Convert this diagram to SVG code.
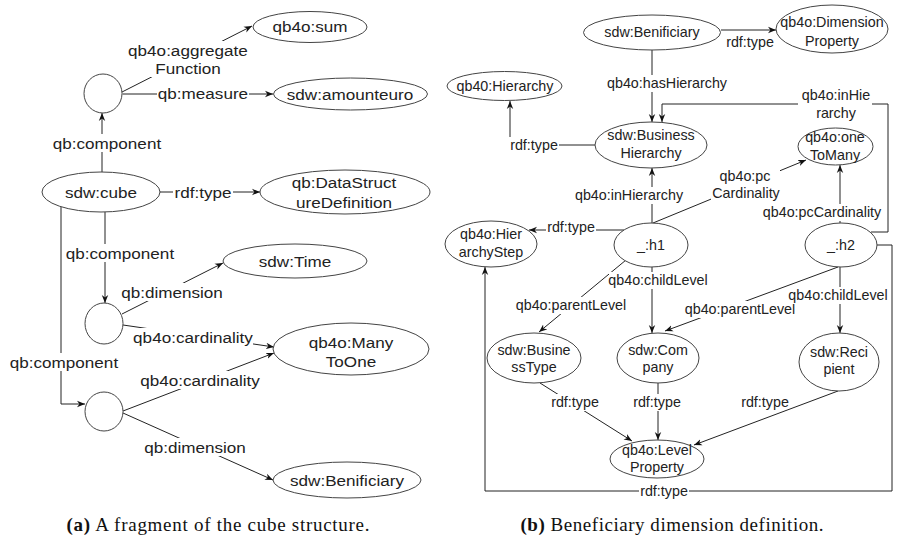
<svg xmlns="http://www.w3.org/2000/svg" width="898" height="535" viewBox="0 0 898 535">
<style>
.n{fill:#fff;stroke:#444;stroke-width:1}
.e{fill:none;stroke:#222;stroke-width:1}
.a{marker-end:url(#arr)}
.bg{fill:#fff}
.l{font-family:"Liberation Sans",Arial,sans-serif;font-size:15px;fill:#222;text-anchor:middle;dominant-baseline:central;transform-box:fill-box;transform-origin:center;transform:scaleX(1.14)}
.r{font-family:"Liberation Sans",Arial,sans-serif;font-size:14.3px;fill:#222;text-anchor:middle;dominant-baseline:central}
.cap{font-family:"Liberation Serif","Times New Roman",serif;font-size:19px;fill:#111;text-anchor:middle}
</style>
<defs>
<marker id="arr" viewBox="0 0 10 10" refX="10" refY="5" markerWidth="8" markerHeight="8" orient="auto" markerUnits="userSpaceOnUse">
<path d="M0,1 L10,5 L0,9 L3,5 z" fill="#111"/>
</marker>
</defs>
<rect width="898" height="535" fill="#fff"/>

<g id="connectors">
<!-- left panel -->
<path class="e a" d="M122,92 L252,26"/>
<path class="e a" d="M122.5,94 L273,94"/>
<path class="e a" d="M102,172 L102,113"/>
<path class="e a" d="M160,192 L260,192"/>
<path class="e a" d="M105,212 L105,303"/>
<path class="e a" d="M122,314 L223,263"/>
<path class="e a" d="M123,325 L274,347"/>
<path class="e a" d="M61,207 L61,404 L85,404"/>
<path class="e a" d="M123,411 L274,353"/>
<path class="e a" d="M123,413 L273,480"/>
<!-- right panel -->
<path class="e a" d="M721,30 L776,30"/>
<path class="e a" d="M652,50 L652,122"/>
<path class="e a" d="M595,145 L510,145 L510,101"/>
<path class="e a" d="M652,223 L652,168"/>
<path class="e a" d="M653,223 L806,160"/>
<path class="e a" d="M840,223 L840,165"/>
<path class="e a" d="M871,232 L888,232 L888,104 L662,104 L662,122"/>
<path class="e a" d="M624,230 L529,230"/>
<path class="e a" d="M652,267 L652,333"/>
<path class="e a" d="M626,260 L539,332"/>
<path class="e a" d="M838,267 L665,331"/>
<path class="e a" d="M840,267 L840,333"/>
<path class="e a" d="M877,245 L892,245 L892,491 L485,491 L485,267"/>
<path class="e a" d="M540,383 L632,441"/>
<path class="e a" d="M658,383 L658,440"/>
<path class="e a" d="M838,391 L694,445"/>

<g id="edge-labels">
<rect class="bg" x="127" y="41" width="122" height="36"/>
<text class="l" x="188" y="50">qb4o:aggregate</text>
<text class="l" x="188" y="68">Function</text>
<rect class="bg" x="157" y="85" width="92" height="17"/>
<text class="l" x="203" y="93">qb:measure</text>
<rect class="bg" x="52" y="134" width="110" height="18"/>
<text class="l" x="107" y="143">qb:component</text>
<rect class="bg" x="173" y="184" width="60" height="17"/>
<text class="l" x="203" y="192">rdf:type</text>
<rect class="bg" x="65" y="244" width="110" height="18"/>
<text class="l" x="120" y="253">qb:component</text>
<rect class="bg" x="121" y="283" width="104" height="18"/>
<text class="l" x="172" y="292">qb:dimension</text>
<rect class="bg" x="133" y="328" width="120" height="17"/>
<text class="l" x="193" y="337">qb4o:cardinality</text>
<rect class="bg" x="9" y="353" width="110" height="18"/>
<text class="l" x="64" y="362">qb:component</text>
<rect class="bg" x="140" y="371" width="120" height="18"/>
<text class="l" x="200" y="380">qb4o:cardinality</text>
<rect class="bg" x="144" y="438" width="103" height="18"/>
<text class="l" x="195" y="447">qb:dimension</text>

<text class="r" x="750" y="42">rdf:type</text>
<rect class="bg" x="606" y="75" width="122" height="17"/>
<text class="r" x="667" y="83">qb4o:hasHierarchy</text>
<rect class="bg" x="509" y="137" width="50" height="17"/>
<text class="r" x="534" y="145">rdf:type</text>
<rect class="bg" x="575" y="187" width="109" height="17"/>
<text class="r" x="629" y="195">qb4o:inHierarchy</text>
<rect class="bg" x="711" y="167" width="69" height="35"/>
<text class="r" x="745" y="176">qb4o:pc</text>
<text class="r" x="746" y="193">Cardinality</text>
<rect class="bg" x="762" y="204" width="121" height="17"/>
<text class="r" x="822" y="212">qb4o:pcCardinality</text>
<rect class="bg" x="798" y="86" width="74" height="36"/>
<text class="r" x="836" y="95">qb4o:inHie</text>
<text class="r" x="836" y="113">rarchy</text>
<rect class="bg" x="546" y="220" width="50" height="17"/>
<text class="r" x="571" y="227">rdf:type</text>
<rect class="bg" x="609" y="272" width="100" height="17"/>
<text class="r" x="658" y="280">qb4o:childLevel</text>
<rect class="bg" x="515" y="297" width="112" height="17"/>
<text class="r" x="571" y="305">qb4o:parentLevel</text>
<rect class="bg" x="684" y="301" width="112" height="17"/>
<text class="r" x="740" y="309">qb4o:parentLevel</text>
<rect class="bg" x="788" y="287" width="100" height="17"/>
<text class="r" x="838" y="295">qb4o:childLevel</text>
<rect class="bg" x="639" y="483" width="50" height="17"/>
<text class="r" x="664" y="491">rdf:type</text>
<rect class="bg" x="551" y="394" width="49" height="17"/>
<text class="r" x="575" y="402">rdf:type</text>
<rect class="bg" x="633" y="394" width="49" height="17"/>
<text class="r" x="657" y="402">rdf:type</text>
<text class="r" x="765" y="402">rdf:type</text>
</g>
</g>

<!-- left panel nodes -->
<g id="sum"><ellipse class="n" cx="310" cy="27" rx="57" ry="15.5"/><text class="l" x="310" y="26">qb4o:sum</text></g>
<g id="m1"><ellipse class="n" cx="103" cy="93.5" rx="19" ry="19.5"/></g>
<g id="amounteuro"><ellipse class="n" cx="350.5" cy="94" rx="77" ry="16"/><text class="l" x="350" y="94">sdw:amounteuro</text></g>
<g id="cube"><ellipse class="n" cx="101" cy="192" rx="59" ry="20"/><text class="l" x="101" y="192">sdw:cube</text></g>
<g id="dsd"><ellipse class="n" cx="345" cy="192" rx="85" ry="22"/><text class="l" x="344" y="182">qb:DataStruct</text><text class="l" x="344" y="202">ureDefinition</text></g>
<g id="d1"><ellipse class="n" cx="104" cy="323.5" rx="19" ry="20.5"/></g>
<g id="time"><ellipse class="n" cx="295" cy="261" rx="72" ry="17"/><text class="l" x="295" y="261">sdw:Time</text></g>
<g id="manytoone"><ellipse class="n" cx="351" cy="349" rx="78" ry="26"/><text class="l" x="351" y="342">qb4o:Many</text><text class="l" x="351" y="361">ToOne</text></g>
<g id="d2"><ellipse class="n" cx="104" cy="411.5" rx="19" ry="19.5"/></g>
<g id="benificiary-a"><ellipse class="n" cx="347" cy="480" rx="74" ry="18"/><text class="l" x="347" y="480">sdw:Benificiary</text></g>

<!-- right panel nodes -->
<g id="benificiary-b"><ellipse class="n" cx="652" cy="32.5" rx="68.5" ry="17.5"/><text class="r" x="652" y="32">sdw:Benificiary</text></g>
<g id="dimprop"><ellipse class="n" cx="832" cy="29" rx="56" ry="24"/><text class="r" x="832" y="22">qb4o:Dimension</text><text class="r" x="832" y="41">Property</text></g>
<g id="hierarchy"><ellipse class="n" cx="504.5" cy="86" rx="57.5" ry="14.5"/><text class="r" x="505" y="86">qb40:Hierarchy</text></g>
<g id="bizhier"><ellipse class="n" cx="651" cy="145" rx="56" ry="23"/><text class="r" x="651" y="135">sdw:Business</text><text class="r" x="651" y="153">Hierarchy</text></g>
<g id="onetomany"><ellipse class="n" cx="835.5" cy="146.5" rx="37.5" ry="18.5"/><text class="r" x="835" y="137">qb4o:one</text><text class="r" x="835" y="155">ToMany</text></g>
<g id="hierstep"><ellipse class="n" cx="491" cy="244" rx="46" ry="23"/><text class="r" x="491" y="234">qb4o:Hier</text><text class="r" x="491" y="252">archyStep</text></g>
<g id="h1"><ellipse class="n" cx="651" cy="245" rx="37" ry="22"/><text class="r" x="651" y="245">_:h1</text></g>
<g id="h2"><ellipse class="n" cx="841" cy="245" rx="36" ry="22"/><text class="r" x="841" y="245">_:h2</text></g>
<g id="biztype"><ellipse class="n" cx="534" cy="358" rx="47" ry="25"/><text class="r" x="534" y="350">sdw:Busine</text><text class="r" x="534" y="367">ssType</text></g>
<g id="company"><ellipse class="n" cx="658" cy="358" rx="41" ry="25"/><text class="r" x="658" y="350">sdw:Com</text><text class="r" x="658" y="367">pany</text></g>
<g id="recipient"><ellipse class="n" cx="839" cy="362" rx="40" ry="29"/><text class="r" x="839" y="352">sdw:Reci</text><text class="r" x="839" y="369">pient</text></g>
<g id="levelprop"><ellipse class="n" cx="657" cy="459" rx="47" ry="19"/><text class="r" x="657" y="450">qb4o:Level</text><text class="r" x="657" y="467">Property</text></g>

<text class="cap" x="218" y="531" textLength="303" lengthAdjust="spacing"><tspan font-weight="bold">(a)</tspan> A fragment of the cube structure.</text>
<text class="cap" x="672" y="531" textLength="303" lengthAdjust="spacing"><tspan font-weight="bold">(b)</tspan> Beneficiary dimension definition.</text>
</svg>
